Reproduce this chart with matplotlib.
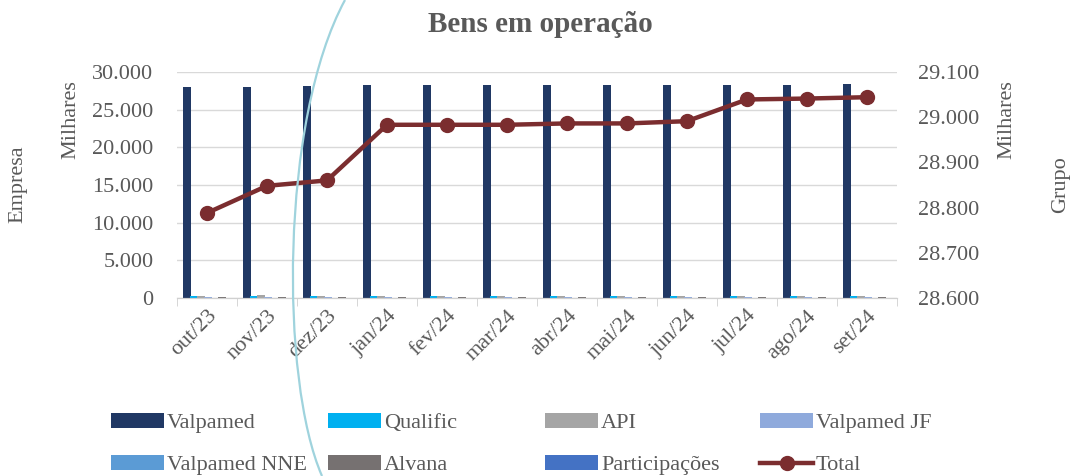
import matplotlib.pyplot as plt
import matplotlib.patches as mpatches
from matplotlib.path import Path
from matplotlib.ticker import FuncFormatter
import numpy as np

plt.rcParams['font.family'] = ['Liberation Serif', 'DejaVu Serif']

months = ['out/23', 'nov/23', 'dez/23', 'jan/24', 'fev/24', 'mar/24',
          'abr/24', 'mai/24', 'jun/24', 'jul/24', 'ago/24', 'set/24']

# values in thousands (Milhares)
valpamed = [28000, 28050, 28120, 28300, 28300, 28300, 28300, 28300, 28300, 28320, 28320, 28330]
qualific = [300, 300, 290, 290, 290, 290, 290, 290, 290, 290, 290, 290]
api = [320, 330, 300, 250, 250, 250, 250, 250, 250, 260, 260, 260]
valpamed_jf = [90, 90, 90, 80, 80, 80, 80, 80, 80, 80, 80, 80]
valpamed_nne = [40, 40, 40, 30, 30, 30, 30, 30, 30, 30, 30, 30]
alvana = [140, 140, 140, 140, 140, 140, 140, 140, 140, 140, 140, 140]
participacoes = [20, 20, 20, 20, 20, 20, 20, 20, 20, 20, 20, 20]
total = [28788, 28848, 28860, 28983, 28983, 28983, 28986, 28986, 28991, 29039, 29041, 29044]

series = [
    ('Valpamed', valpamed, '#203864'),
    ('Qualific', qualific, '#00b0f0'),
    ('API', api, '#a5a5a5'),
    ('Valpamed JF', valpamed_jf, '#8faadc'),
    ('Valpamed NNE', valpamed_nne, '#5b9bd5'),
    ('Alvana', alvana, '#767171'),
    ('Participações', participacoes, '#4472c4'),
]

txt = '#595959'
fs = 16
fmt = FuncFormatter(lambda v, p: f'{v:,.0f}'.replace(',', '.'))

fig = plt.figure(figsize=(10.71, 4.76), dpi=100)
ax = fig.add_axes([0.1653, 0.374, 0.6722, 0.475])
ax2 = ax.twinx()

x = np.arange(len(months))
step = 0.117
w = 0.13
for k, (name, vals, col) in enumerate(series):
    ax.bar(x - 0.333 + k * step, vals, width=w, color=col, label=name, zorder=2)

ax2.plot(x, total, color='#7b2d2f', lw=3.2, marker='o', ms=10, label='Total', zorder=3)

ax.set_xlim(-0.5, len(months) - 0.5)
ax.set_ylim(0, 30000)
ax.set_yticks(np.arange(0, 30001, 5000))
ax.yaxis.set_major_formatter(fmt)
ax2.set_ylim(28600, 29100)
ax2.set_yticks(np.arange(28600, 29101, 100))
ax2.yaxis.set_major_formatter(fmt)

ax.grid(axis='y', color='#d9d9d9', lw=1, zorder=0)
ax.set_axisbelow(True)
for a in (ax, ax2):
    for s in ('top', 'left', 'right'):
        a.spines[s].set_visible(False)
    a.spines['bottom'].set_color('#d0d0d0')
ax.tick_params(axis='y', length=0, labelsize=fs, labelcolor=txt, pad=17)
ax2.tick_params(axis='y', length=0, labelsize=fs, labelcolor=txt, pad=15)

ax.set_xticks(x)
ax.set_xticklabels(months, rotation=45, ha='right', rotation_mode='anchor',
                   fontsize=fs, color=txt)
ax.tick_params(axis='x', length=0, pad=6)
ax.set_xticks(np.arange(-0.5, len(months), 1), minor=True)
ax.tick_params(axis='x', which='minor', length=6, color='#d0d0d0')

fig.text(0.505, 0.948, 'Bens em operação', ha='center', va='center',
         fontsize=21, fontweight='bold', color=txt)
fig.text(0.017, 0.613, 'Empresa', rotation=90, ha='center', va='center', fontsize=fs, color=txt)
fig.text(0.066, 0.748, 'Milhares', rotation=90, ha='center', va='center', fontsize=fs, color=txt)
fig.text(0.940, 0.748, 'Milhares', rotation=90, ha='center', va='center', fontsize=fs, color=txt)
fig.text(0.990, 0.613, 'Grupo', rotation=90, ha='center', va='center', fontsize=fs, color=txt)

h1, l1 = ax.get_legend_handles_labels()
h2, l2 = ax2.get_legend_handles_labels()
handles = h1 + h2
labels = l1 + l2
# fixed-width columns: (col0: Valpamed, Valpamed NNE), (Qualific, Alvana), ...
col_x = [111, 328, 545, 760]
for c, xp in enumerate(col_x):
    idx = [c, c + 4]
    fig.legend([handles[i] for i in idx], [labels[i] for i in idx],
               loc='upper left', bbox_to_anchor=(xp / 1071, 0.132),
               frameon=False, fontsize=fs, labelcolor=txt,
               handlelength=2.4, handleheight=0.64, handletextpad=0.12,
               borderpad=0, borderaxespad=0, labelspacing=0.98)

# decorative light blue arc crossing the figure
verts = [(345 / 1071, 1.0), (280 / 1071, 1 - 120 / 476),
         (280 / 1071, 1 - 380 / 476), (322 / 1071, 0.0)]
arc = mpatches.PathPatch(Path(verts, [Path.MOVETO, Path.CURVE4, Path.CURVE4, Path.CURVE4]),
                         transform=fig.transFigure, fill=False,
                         edgecolor='#9fd3dd', lw=1.6, zorder=10)
fig.patches.append(arc)

fig.savefig('out.png', dpi=100)
